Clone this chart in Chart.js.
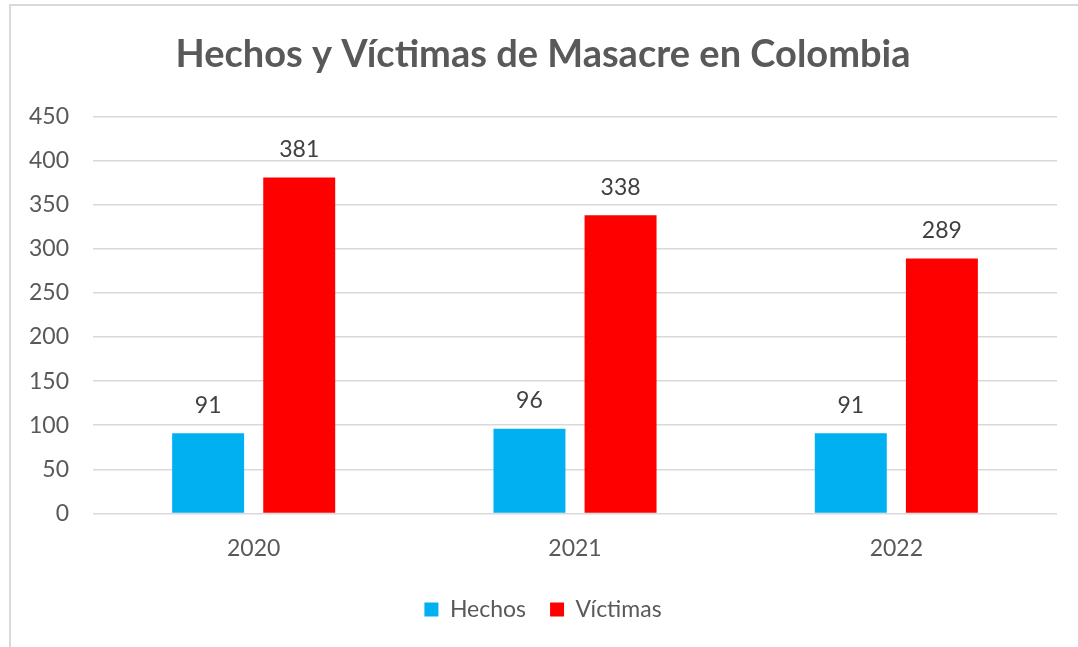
<!DOCTYPE html>
<html>
<head>
<meta charset="utf-8">
<script src="https://cdn.jsdelivr.net/npm/chart.js@4"></script>
<style>
  html, body { margin: 0; padding: 0; background: #fff; }
  #wrap { width: 1078px; height: 647px; }
</style>
</head>
<body>
<div id="wrap"><canvas id="masacreChart" width="1078" height="647"></canvas></div>
<script>
const years = ['2020', '2021', '2022'];
const hechos = [91, 96, 91];
const victimas = [381, 338, 289];
const yTicks = [0, 50, 100, 150, 200, 250, 300, 350, 400, 450];

// marco gris alrededor del gráfico
const frame = {
  id: 'frame',
  beforeDraw(chart) {
    const c = chart.ctx;
    c.save();
    c.fillStyle = '#fff';
    c.fillRect(0, 0, chart.width, chart.height);
    c.strokeStyle = '#d9d9d9';
    c.lineWidth = 2;
    c.beginPath();
    c.moveTo(10, chart.height);
    c.lineTo(10, 5);
    c.lineTo(chart.width, 5);
    c.stroke();
    c.restore();
  }
};

// etiquetas de valor encima de las barras
const valueLabels = {
  id: 'valueLabels',
  afterDatasetsDraw(chart) {
    const c = chart.ctx;
    c.save();
    c.font = '23px Lato';
    c.fillStyle = '#404040';
    c.textAlign = 'center';
    c.textBaseline = 'middle';
    chart.data.datasets.forEach((ds, i) => {
      chart.getDatasetMeta(i).data.forEach((bar, j) => {
        c.fillText(ds.data[j], bar.x, bar.y - 28);
      });
    });
    c.restore();
  }
};

const ctx = document.getElementById('masacreChart').getContext('2d');

new Chart(ctx, {
  type: 'bar',
  data: {
    labels: years,
    datasets: [
      { label: 'Hechos', data: hechos, backgroundColor: '#00b0f0' },
      { label: 'Víctimas', data: victimas, backgroundColor: '#ff0000' }
    ]
  },
  options: {
    responsive: false,
    animation: false,
    categoryPercentage: 0.567,
    barPercentage: 0.79,
    layout: { padding: { top: 10, left: 29, right: 21, bottom: 16 } },
    plugins: {
      tooltip: { enabled: false },
      title: {
        display: true,
        text: 'Hechos y Víctimas de Masacre en Colombia',
        color: '#595959',
        font: { family: 'Lato', size: 38, weight: 'bold' },
        padding: { top: 22, bottom: 39 }
      },
      legend: {
        position: 'bottom',
        labels: {
          color: '#595959',
          font: { family: 'Lato', size: 23 },
          boxWidth: 14,
          boxHeight: 14,
          padding: 24
        }
      }
    },
    scales: {
      x: {
        grid: { color: 'transparent', tickColor: 'transparent', drawTicks: true, tickLength: 10 },
        border: { display: false },
        ticks: {
          color: '#595959',
          font: { family: 'Lato', size: 23, lineHeight: 2.2 },
          padding: 0
        }
      },
      y: {
        min: 0,
        max: 450,
        afterBuildTicks(axis) {
          axis.ticks = yTicks.map(v => ({ value: v }));
        },
        grid: { color: '#d9d9d9', lineWidth: 1.5, tickColor: 'transparent', drawTicks: true, tickLength: 24 },
        border: { display: false },
        ticks: {
          color: '#595959',
          font: { family: 'Lato', size: 23 },
          padding: 0
        }
      }
    }
  },
  plugins: [frame, valueLabels]
});
</script>
</body>
</html>
